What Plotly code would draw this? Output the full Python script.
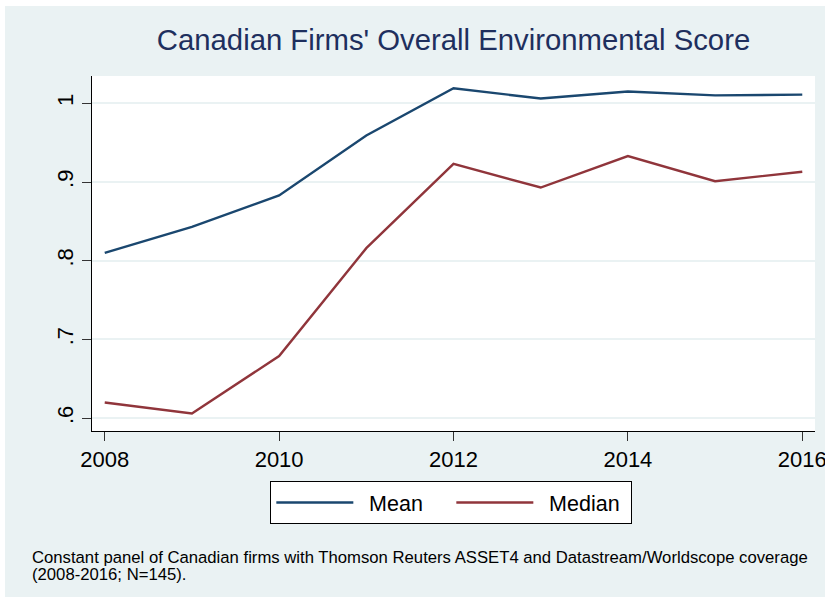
import plotly.graph_objects as go

years = [2008, 2009, 2010, 2011, 2012, 2013, 2014, 2015, 2016]
mean_score = [0.810, 0.843, 0.883, 0.959, 1.019, 1.006, 1.015, 1.010, 1.011]
median_score = [0.620, 0.606, 0.679, 0.816, 0.923, 0.893, 0.933, 0.901, 0.913]
y_ticks = [0.6, 0.7, 0.8, 0.9, 1.0]
y_tick_labels = [".6", ".7", ".8", ".9", "1"]
x_ticks = [2008, 2010, 2012, 2014, 2016]
series_names = ["Mean", "Median"]

NAVY = "#1a476f"
MAROON = "#90353b"
TITLE = "#1e2f5e"
BG = "#eaf2f3"
FONT = "Liberation Sans, Arial, sans-serif"

W, H = 830, 603
L, R, T, B = 92, 15, 76, 172
pw, ph = W - L - R, H - T - B


def px(x):
    return (x - L) / pw


def py(y):
    return (H - B - y) / ph


fig = go.Figure()
fig.add_trace(go.Scatter(x=years, y=mean_score, mode="lines",
                         name="\u2002" + series_names[0],
                         line=dict(color=NAVY, width=2.4)))
fig.add_trace(go.Scatter(x=years, y=median_score, mode="lines",
                         name="\u2002" + series_names[1],
                         line=dict(color=MAROON, width=2.4)))

fig.update_layout(
    width=W, height=H,
    paper_bgcolor=BG, plot_bgcolor="white",
    margin=dict(l=L, r=R, t=T, b=B, autoexpand=False),
    font=dict(family=FONT, color="black"),
    title=dict(text="Canadian Firms' Overall Environmental Score",
               x=0.5, xanchor="center", xref="paper", y=1 - 40 / H, yanchor="middle",
               font=dict(size=29.3, color=TITLE, family=FONT)),
    showlegend=True,
    legend=dict(orientation="h", x=0.497, xanchor="center", y=py(481), yanchor="top",
                bgcolor="white", bordercolor="black", borderwidth=1,
                font=dict(size=21.5, family=FONT), itemwidth=77,
                entrywidth=88, entrywidthmode="pixels"),
    xaxis=dict(range=[2007.854, 2016.146], tickvals=x_ticks, ticks="outside",
               ticklen=9, tickcolor="#333", showline=True, linecolor="black",
               linewidth=1, showgrid=False, zeroline=False, automargin=False,
               tickfont=dict(size=22, family=FONT)),
    yaxis=dict(range=[0.5838, 1.0346], tickvals=y_ticks, ticktext=y_tick_labels,
               ticks="outside", ticklen=9, tickcolor="#333", showline=True,
               linecolor="black", linewidth=1, showgrid=True, gridcolor=BG,
               gridwidth=2, zeroline=False, tickangle=-90, automargin=False,
               tickfont=dict(size=22, family=FONT)),
)

# white outer frame of the graph region
for x0, y0, x1, y1 in [(0, 0, W, 6), (0, H - 6, W, H), (0, 0, 5, H), (W - 5, 0, W, H)]:
    fig.add_shape(type="rect", xref="paper", yref="paper",
                  x0=px(x0), x1=px(x1), y0=py(y0), y1=py(y1),
                  fillcolor="white", line=dict(width=0), layer="above")

note_lines = [
    "Constant panel of Canadian firms with Thomson Reuters ASSET4 and Datastream/Worldscope coverage",
    "(2008-2016; N=145).",
]
for i, line in enumerate(note_lines):
    fig.add_annotation(
        text=line, xref="paper", yref="paper", x=px(30), y=py(557.5 + 17 * i),
        xanchor="left", yanchor="middle", align="left", showarrow=False,
        font=dict(size=16.7, family=FONT, color="black"))

fig.write_html("out.html", config={"displayModeBar": False},
               post_script="document.body.style.margin='0';document.body.style.padding='0';")
